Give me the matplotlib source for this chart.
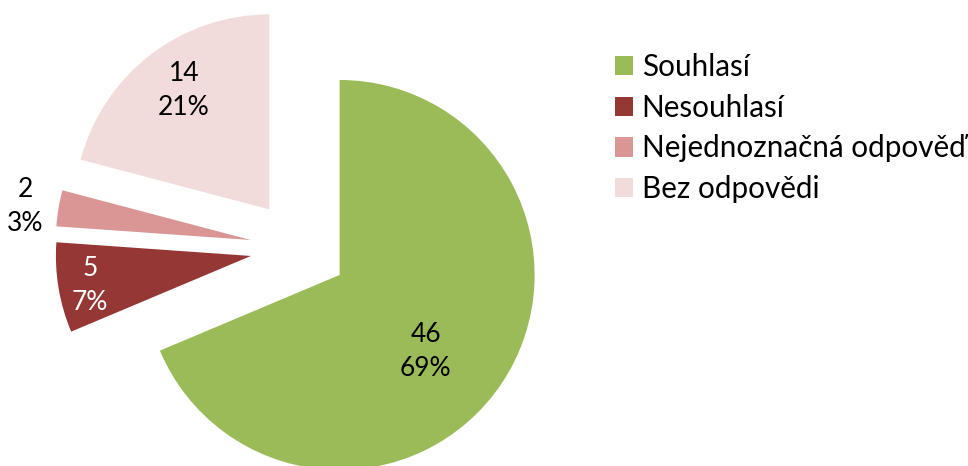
import numpy as np
import matplotlib
matplotlib.use("Agg")
import matplotlib.pyplot as plt

categories = ["Souhlasí", "Nesouhlasí", "Nejednoznačná odpověď", "Bez odpovědi"]
values = [46, 5, 2, 14]
colors = ["#9BBB59", "#953735", "#D99694", "#F2DCDB"]
label_colors = ["black", "white", "black", "black"]

plt.rcParams['font.family'] = ['Lato', 'DejaVu Sans']

W, H = 968, 466
fig = plt.figure(figsize=(W / 100, H / 100), dpi=100)
ax = fig.add_axes([0, 0, 1, 1])

R_PX = 195.0
cx, cy = 299.0, 248.0  # pie centre in pixels (from top-left)

wedges, _ = ax.pie(values, colors=colors, startangle=90, counterclock=False,
                   explode=[0.25] * len(values), radius=1.0,
                   wedgeprops=dict(linewidth=0))
ax.set_aspect('auto')
ax.set_xlim(-cx / R_PX, (W - cx) / R_PX)
ax.set_ylim(-(H - cy) / R_PX, cy / R_PX)
ax.axis('off')

total = sum(values)
dists = [0.59, 0.84, 1.17, 0.75]
ang_off = [-8, 1, 1.0, -2]
for w, v, d, ao, tc in zip(wedges, values, dists, ang_off, label_colors):
    mid = np.deg2rad((w.theta1 + w.theta2) / 2 + ao)
    x = w.center[0] + d * w.r * np.cos(mid)
    y = w.center[1] + d * w.r * np.sin(mid)
    pct = round(100 * v / total)
    ax.text(x, y, f"{v}\n{pct}%", ha='center', va='center', fontsize=19,
            color=tc, linespacing=1.45)

leg = fig.legend(wedges, categories, loc='upper left',
                 bbox_to_anchor=(615 / W, 1 - 53 / H), frameon=False,
                 fontsize=21.3, handlelength=0.62, handleheight=0.62,
                 handletextpad=0.28, labelspacing=0.43, borderpad=0, borderaxespad=0)

fig.savefig("out.png", dpi=100)
